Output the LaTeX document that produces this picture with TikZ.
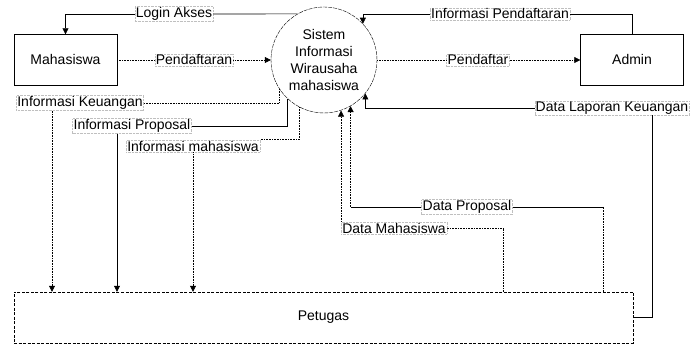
\documentclass[tikz,border=0pt]{standalone}
\usepackage{fontspec}
\setmainfont{Liberation Sans}
\usetikzlibrary{arrows.meta}
\tikzset{
  proses/.style={circle,draw,dash pattern=on 4pt off 1pt,minimum size=106pt,inner sep=0pt,align=center},
  entitas/.style={rectangle,draw,minimum width=103pt,minimum height=51pt,inner sep=0pt},
  arus/.style={line width=0.6pt},
  panah/.style={arus,-{Triangle[length=6pt,width=6pt]}},
  putus/.style={densely dotted},
  ket/.style={fill=white,draw=gray!50,densely dotted,inner sep=1pt}
}
\begin{document}
\begin{tikzpicture}[x=1pt,y=-1pt,font=\fontsize{14}{17}\selectfont]
\useasboundingbox (0,0) rectangle (694,344);
\node[entitas] (mhs) at (65.5,60) {Mahasiswa};
\node[entitas] (adm) at (632,60) {Admin};
\node[entitas,minimum width=619pt,dash pattern=on 3pt off 1.5pt] (pet) at (323.5,317.5) {Petugas};
\node[proses] (sis) at (324,60) {Sistem\\Informasi\\Wirausaha\\mahasiswa};
\node[ket] (login) at (174,14) {Login Akses};
\node[ket] (daftar) at (194,60) {Pendaftaran};
\node[ket] (infodaftar) at (500,14) {Informasi Pendaftaran};
\node[ket] (pendaftar) at (478,60) {Pendaftar};
\node[ket] (lapor) at (612,108) {Data Laporan Keuangan};
\node[ket] (infouang) at (80,103) {Informasi Keuangan};
\node[ket] (infoprop) at (132,126) {Informasi Proposal};
\node[ket] (infomhs) at (193,146) {Informasi mahasiswa};
\node[ket] (dataprop) at (467,207) {Data Proposal};
\node[ket] (datamhs) at (394,228) {Data Mahasiswa};
\coordinate (pk) at ([xshift=-271.5pt]pet.north);
\coordinate (pp) at ([xshift=-206.5pt]pet.north);
\coordinate (dmb) at ([xshift=180pt]pet.north);
\coordinate (dpb) at ([xshift=280pt]pet.north);
\draw[arus] (sis.120) -- (login.east);
\draw[panah] (login.west) -| (mhs.north);
\draw[arus,putus] (mhs.east) -- (daftar.west);
\draw[panah,putus] (daftar.east) -- (sis.west);
\draw[arus] (adm.north) |- (infodaftar.east);
\draw[panah] (infodaftar.west) -| (sis.43);
\draw[arus,putus] (sis.east) -- (pendaftar.west);
\draw[panah,putus] (pendaftar.east) -- (adm.west);
\draw[arus] (pet.east) -| ([xshift=40pt]lapor.south);
\draw[panah] (lapor.west) -| (sis.-39);
\draw[arus,putus] (sis.213) |- (infouang.east);
\draw[panah,putus] (infouang.south -| pk) -- (pk);
\draw[arus] (sis.227) |- (infoprop.east);
\draw[panah] (infoprop.south -| pp) -- (pp);
\draw[arus,putus] (sis.242) |- (infomhs.north east);
\draw[panah,putus] (infomhs.south) -- (infomhs.south |- pet.north);
\draw[arus,putus] (dmb) |- (datamhs.east);
\draw[panah,putus] (datamhs.north west) -- (datamhs.north west |- sis.288);
\draw[arus,putus] (dpb) -- (dpb |- dataprop.east);
\draw[arus] (dpb |- dataprop.east) -- (dataprop.east);
\draw[arus] (dataprop.west) -- (dataprop.west -| sis.300);
\draw[panah,putus] (dataprop.west -| sis.300) -- (sis.300);
\end{tikzpicture}
\end{document}
